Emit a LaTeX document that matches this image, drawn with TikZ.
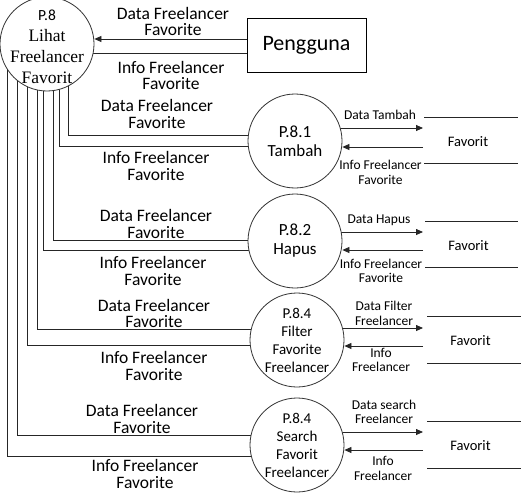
\documentclass[tikz,border=0pt]{standalone}
\usepackage{fontspec}
\setmainfont{Carlito}
\newfontfamily\seriffam{Liberation Serif}
\usetikzlibrary{arrows.meta,backgrounds}
\begin{document}
\begin{tikzpicture}[x=1pt,y=1pt,
  ln/.style={draw=black!85, line width=0.8pt},
  arr/.style={ln, -{Triangle[length=7pt,width=6pt]}},
  proc/.style={circle, draw=black!80, line width=0.8pt, fill=white, minimum size=94pt, inner sep=0pt, align=center},
  lbl/.style={align=center, font=\fontsize{17.5}{16.5}\selectfont, inner sep=0pt},
  slbl/.style={align=center, font=\fontsize{13.5}{14.5}\selectfont, inner sep=0pt},
  storelbl/.style={font=\fontsize{14.5}{16}\selectfont, inner sep=0pt}]
\useasboundingbox (0,0) rectangle (521,-492);

% processes
\node[proc] (P8) at (47,-44) {};
\node[align=center, inner sep=0pt, font=\seriffam\fontsize{17.5}{21}\selectfont] (P8t) at (47,-47)
  {{\rmfamily\fontsize{15.5}{21}\selectfont P.8}\\Lihat\\Freelancer\\Favorit};
\node[draw, line width=0.8pt, minimum width=119pt, minimum height=54pt, inner sep=0pt,
  font=\fontsize{22}{24}\selectfont] (Peng) at (306.5,-45) {Pengguna};
\node[proc, font=\fontsize{17}{19}\selectfont] (P81) at (295,-141) {P.8.1\\Tambah};
\node[proc, font=\fontsize{17}{19}\selectfont] (P82) at (295,-241) {P.8.2\\Hapus};
\node[proc, font=\fontsize{15}{18}\selectfont] (P84a) at (297,-340) {P.8.4\\Filter\\Favorite\\Freelancer};
\node[proc, font=\fontsize{15}{18}\selectfont] (P84b) at (297,-445) {P.8.4\\Search\\Favorit\\Freelancer};

% data stores
\node[storelbl] (F1) at (468,-142) {Favorit};
\node[storelbl] (F2) at (468.5,-246) {Favorit};
\node[storelbl] (F3) at (470.5,-341) {Favorit};
\node[storelbl] (F4) at (470.5,-446) {Favorit};
\coordinate (RX) at (423,0);
\draw[ln] (424,-117) -- (518,-117);
\draw[ln] (424,-163) -- (518,-163);
\draw[ln] (425,-221) -- (518,-221);
\draw[ln] (425,-267) -- (518,-267);
\draw[ln] (427,-316) -- (521,-316);
\draw[ln] (427,-363) -- (521,-363);
\draw[ln] (427,-421) -- (521,-421);
\draw[ln] (427,-468) -- (521,-468);

% connectors
\draw[arr] (Peng.west |- 0,-39) -- (P8.east |- 0,-39);
\begin{scope}[on background layer]
\draw[ln] (P8.center |- 0,-53) -- (Peng.west |- 0,-53);
\draw[ln] (P8.center -| 68,0) |- (P81.center |- 0,-135);
\draw[ln] (P8.center -| 59,0) |- (P81.center |- 0,-146);
\draw[ln] (P8.center -| 53,0) |- (P82.center |- 0,-240);
\draw[ln] (P8.center -| 43,0) |- (P82.center |- 0,-250);
\draw[ln] (P8.center -| 37,0) |- (P84a.center |- 0,-329);
\draw[ln] (P8.center -| 27,0) |- (P84a.center |- 0,-345);
\draw[ln] (P8.center -| 17,0) |- (P84b.center |- 0,-435);
\draw[ln] (P8.center -| 7,0) |- (P84b.center |- 0,-456);
\draw[arr] (P81.center |- 0,-128) -- (RX |- 0,-128);
\draw[arr] (P82.center |- 0,-232) -- (RX |- 0,-232);
\draw[arr] (P84a.center |- 0,-328) -- (RX |- 0,-328);
\draw[arr] (P84b.center |- 0,-432) -- (RX |- 0,-432);
\end{scope}
\draw[arr] (RX |- 0,-147) -- (P81.east |- 0,-147);
\draw[arr] (RX |- 0,-250) -- (P82.east |- 0,-250);
\draw[arr] (RX |- 0,-346) -- (P84a.east |- 0,-346);
\draw[arr] (RX |- 0,-450) -- (P84b.east |- 0,-450);

% labels left
\node[lbl] at (173,-21.5) {Data Freelancer\\Favorite};
\node[lbl] at (171,-75.5) {Info Freelancer\\Favorite};
\node[lbl] at (157,-114) {Data Freelancer\\Favorite};
\node[lbl] at (156,-166) {Info Freelancer\\Favorite};
\node[lbl] at (156,-224) {Data Freelancer\\Favorite};
\node[lbl] at (153,-271) {Info Freelancer\\Favorite};
\node[lbl] at (154,-313.5) {Data Freelancer\\Favorite};
\node[lbl] at (154,-366) {Info Freelancer\\Favorite};
\node[lbl] at (142,-419) {Data Freelancer\\Favorite};
\node[lbl] at (145,-474) {Info Freelancer\\Favorite};

% labels right
\node[slbl] at (380,-115) {Data Tambah};
\node[slbl] at (380.5,-172.5) {Info Freelancer\\Favorite};
\node[slbl] at (379,-220) {Data Hapus};
\node[slbl] at (381,-271) {Info Freelancer\\Favorite};
\node[slbl] at (384,-313.3) {Data Filter\\Freelancer};
\node[slbl] at (381,-360) {Info\\Freelancer};
\node[slbl] at (384,-411.7) {Data search\\Freelancer};
\node[slbl] at (383,-468.3) {Info\\Freelancer};
\end{tikzpicture}
\end{document}
